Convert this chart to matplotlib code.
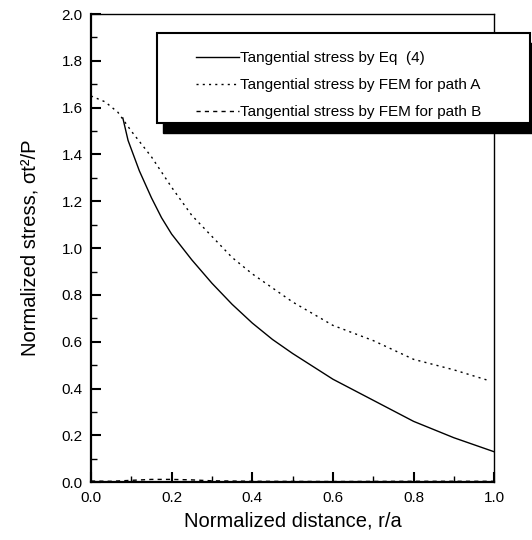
import matplotlib
matplotlib.use('Agg')
import matplotlib.pyplot as plt
from matplotlib.patches import Rectangle
from matplotlib.ticker import MultipleLocator, FormatStrFormatter

plt.rcParams['font.family'] = ['Liberation Sans', 'DejaVu Sans']

# ── Data ──────────────────────────────────────────────────────────
x_eq = [0.079, 0.092, 0.12, 0.15, 0.175, 0.2, 0.25, 0.3, 0.35, 0.4, 0.45,
        0.5, 0.6, 0.7, 0.8, 0.9, 1.0]
y_eq = [1.556, 1.46, 1.33, 1.215, 1.13, 1.06, 0.95, 0.85, 0.76, 0.68, 0.61,
        0.55, 0.44, 0.35, 0.26, 0.19, 0.13]

x_a = [0.0, 0.035, 0.067, 0.1, 0.15, 0.2, 0.25, 0.3, 0.35, 0.4, 0.5, 0.6, 0.7, 0.8, 0.9, 0.985]
y_a = [1.65, 1.625, 1.58, 1.50, 1.39, 1.26, 1.14, 1.05, 0.96, 0.89, 0.77, 0.67, 0.605, 0.525, 0.48, 0.435]

x_b = [0.0, 0.05, 0.1, 0.15, 0.2, 0.25, 0.3, 0.4, 0.6, 0.8, 1.0]
y_b = [0.005, 0.004, 0.008, 0.012, 0.012, 0.01, 0.006, 0.004, 0.003, 0.004, 0.004]

labels = ['Tangential stress by Eq  (4)',
          'Tangential stress by FEM for path A',
          'Tangential stress by FEM for path B']

# ── Figure ────────────────────────────────────────────────────────
fig = plt.figure(figsize=(5.32, 5.40), dpi=100)
ax = fig.add_axes([0.171, 0.107, 0.758, 0.867])

l1, = ax.plot(x_eq, y_eq, color='black', linewidth=1.0)
l2, = ax.plot(x_a, y_a, color='black', linewidth=1.0, linestyle=(0, (1.5, 3)))
l3, = ax.plot(x_b, y_b, color='black', linewidth=1.0, linestyle=(0, (3, 3)))

ax.set_xlim(0, 1.0)
ax.set_ylim(0, 2.0)
ax.xaxis.set_major_locator(MultipleLocator(0.2))
ax.xaxis.set_minor_locator(MultipleLocator(0.1))
ax.yaxis.set_major_locator(MultipleLocator(0.2))
ax.yaxis.set_minor_locator(MultipleLocator(0.1))
ax.xaxis.set_major_formatter(FormatStrFormatter('%.1f'))
ax.yaxis.set_major_formatter(FormatStrFormatter('%.1f'))
ax.tick_params(which='both', direction='in', top=False, right=False, labelsize=11)
ax.tick_params(which='major', length=7, width=1.5)
ax.tick_params(which='minor', length=4, width=1.0)
ax.tick_params(axis='x', pad=6)
ax.tick_params(axis='y', pad=6)
for side in ['left', 'bottom']:
    ax.spines[side].set_linewidth(1.6)
for side in ['top', 'right']:
    ax.spines[side].set_linewidth(1.0)

ax.set_xlabel('Normalized distance, r/a', fontsize=14.5, labelpad=5)
ax.set_ylabel('Normalized stress, σt²/P', fontsize=14.5, labelpad=16)

# ── Legend box with shadow ────────────────────────────────────────
bx0, by0, bw, bh = 157 / 532, (540 - 123) / 540, 373 / 532, 90 / 540
shadow = Rectangle((bx0 + 6 / 532, by0 - 10 / 540), bw, bh, transform=fig.transFigure,
                   facecolor='black', edgecolor='black', zorder=5)
box = Rectangle((bx0, by0), bw, bh, transform=fig.transFigure,
                facecolor='white', edgecolor='black', linewidth=1.5, zorder=6)
fig.patches.extend([shadow, box])

leg = fig.legend([l1, l2, l3], labels, loc='upper left',
                 bbox_to_anchor=(190 / 532, (540 - 45) / 540),
                 frameon=False, fontsize=11, handlelength=2.8,
                 handletextpad=0.1, labelspacing=0.85, borderaxespad=0)
leg.set_zorder(7)

plt.savefig('out.png', dpi=100)
plt.close()
